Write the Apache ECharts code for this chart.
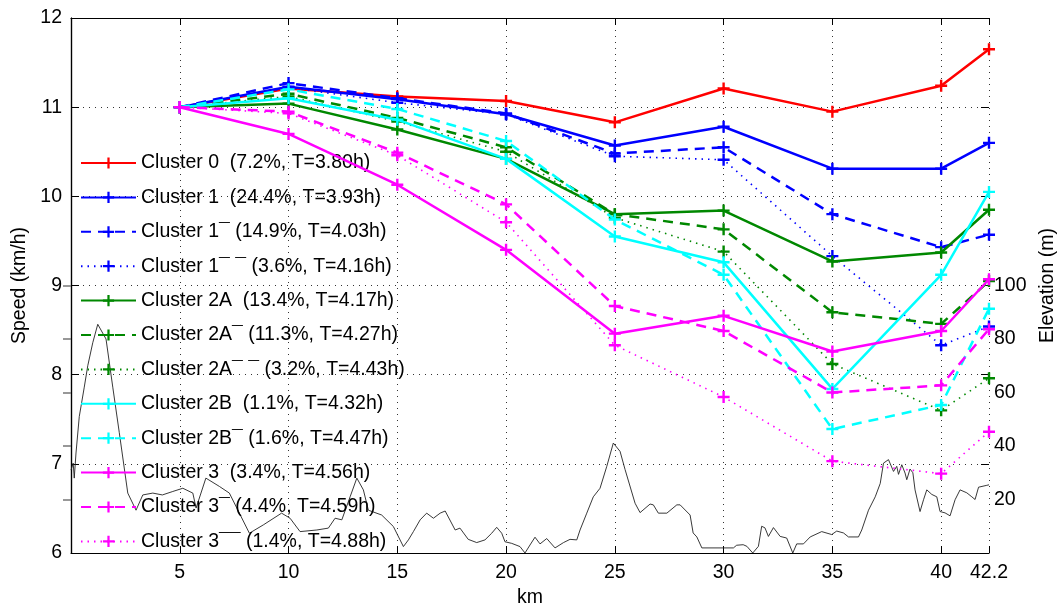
<!DOCTYPE html>
<html>
<head>
<meta charset="utf-8">
<script src="https://cdn.jsdelivr.net/npm/echarts@6/dist/echarts.min.js"></script>
<style>
  html, body { margin: 0; padding: 0; background: #fff; }
  #chart { width: 1061px; height: 605px; }
</style>
</head>
<body>
<div id="chart"></div>
<script>
// km markers where cluster speeds were measured
var kmPoints = [5, 10, 15, 20, 25, 30, 35, 40, 42.2];

// speed (km/h) per cluster
var c0    = [11, 11.21, 11.12, 11.07, 10.83, 11.21, 10.95, 11.24, 11.65];
var c1    = [11, 11.23, 11.09, 10.92, 10.57, 10.78, 10.31, 10.31, 10.60];
var c1m   = [11, 11.27, 11.10, 10.93, 10.48, 10.55, 9.80, 9.43, 9.57];
var c1mm  = [11, 11.22, 11.05, 10.92, 10.45, 10.41, 9.33, 8.33, 8.54];
var c2a   = [11, 11.04, 10.75, 10.42, 9.80, 9.84, 9.27, 9.37, 9.85];
var c2am  = [11, 11.15, 10.88, 10.55, 9.80, 9.63, 8.70, 8.57, 9.05];
var c2amm = [11, 11.12, 10.84, 10.50, 9.76, 9.38, 8.12, 7.60, 7.96];
var c2b   = [11, 11.10, 10.86, 10.42, 9.55, 9.26, 7.84, 9.12, 10.05];
var c2bm  = [11, 11.20, 10.98, 10.62, 9.74, 9.12, 7.39, 7.66, 8.74];
var c3    = [11, 10.70, 10.13, 9.40, 8.46, 8.66, 8.26, 8.49, 9.07];
var c3m   = [11, 10.95, 10.49, 9.91, 8.77, 8.49, 7.80, 7.88, 8.51];
var c3mm  = [11, 10.93, 10.46, 9.71, 8.33, 7.75, 7.03, 6.89, 7.36];

var clusterNames = [
    'Cluster 0  (7.2%, T=3.80h)',
    'Cluster 1  (24.4%, T=3.93h)',
    'Cluster 1\u00af (14.9%, T=4.03h)',
    'Cluster 1\u00af \u00af (3.6%, T=4.16h)',
    'Cluster 2A  (13.4%, T=4.17h)',
    'Cluster 2A\u00af (11.3%, T=4.27h)',
    'Cluster 2A\u00af \u00af (3.2%, T=4.43h)',
    'Cluster 2B  (1.1%, T=4.32h)',
    'Cluster 2B\u00af (1.6%, T=4.47h)',
    'Cluster 3  (3.4%, T=4.56h)',
    'Cluster 3\u00af (4.4%, T=4.59h)',
    'Cluster 3\u00af\u00af (1.4%, T=4.88h)'
];

// elevation profile (km, m)
var elevKm = [0, 0.1, 0.15, 0.23, 0.38, 0.61, 0.77, 1.0, 1.23, 1.61, 1.92, 2.22, 2.61, 2.99, 3.3, 3.76, 4.2, 4.68,
    5.14, 5.6, 5.75, 6.2, 6.82, 7.28, 7.74, 8.2, 8.84, 9.68, 10.07, 10.53, 11.3, 11.83, 12.14, 12.45, 12.83,
    13.14, 13.44, 13.67, 14.28, 14.82, 15.28, 15.51, 15.74, 16.05, 16.35, 16.66, 16.97, 17.2, 17.66, 17.88,
    18.26, 18.65, 19.03, 19.34, 19.57, 19.8, 19.95, 20.26, 20.64, 20.87, 21.1, 21.33, 21.56, 21.87, 22.25,
    22.64, 22.94, 23.25, 23.4, 23.71, 24.01, 24.32, 24.63, 24.93, 25.24, 25.47, 25.93, 26.16, 26.62, 26.77,
    27.0, 27.39, 27.85, 28.0, 28.46, 28.6, 28.77, 29.0, 30.45, 30.6, 30.9, 31.07, 31.34, 31.6, 31.75, 31.9,
    32.06, 32.29, 32.6, 32.9, 33.18, 33.36, 33.67, 33.98, 34.51, 34.97, 35.2, 35.51, 35.74, 36.2, 36.35,
    36.66, 36.97, 37.2, 37.35, 37.58, 37.81, 37.96, 38.04, 38.19, 38.34, 38.42, 38.57, 38.7, 38.8, 39.03,
    39.19, 39.34, 39.57, 39.8, 39.95, 40.18, 40.41, 40.64, 40.87, 41.18, 41.41, 41.56, 41.72, 42.1, 42.2];
var elevM = [31, 33.6, 28, 37.4, 51, 62, 70, 78.6, 85.5, 80, 62, 45, 22.4, 16, 21.7, 22.4, 21.7, 23,
    24.2, 22.4, 16.8, 28, 24.9, 22.4, 14.9, 7.4, 10.5, 14.9, 13, 8, 8.6, 9.3, 13, 12.4, 21,
    28, 23.6, 16, 14.2, 9.9, 2.4, 4.9, 8, 12.4, 14.9, 13, 14.9, 15.7, 8.6, 9.3,
    5.1, 3.9, 4.9, 7.4, 9.6, 7.4, 4.2, 3.6, 2.4, 0, 3, 5.9, 3.4, 5.4, 1.9,
    3.9, 5.1, 4.9, 8.6, 14.9, 21, 24.2, 32.4, 41.1, 38, 31.2, 18.6, 15.1, 18.3, 18,
    14.9, 14.9, 18, 18, 14.2, 7.5, 6, 1.9, 1.9, 2.9, 3.1, 2.5, 0, 2.5, 10, 9.4,
    6.2, 9.5, 6.2, 5.6, 0, 3.4, 3.4, 6, 8, 6.9, 8.2, 7.5, 6, 6, 8.6,
    16, 21, 26, 33.6, 34.9, 30.5, 32.4, 29.4, 33, 29.9, 27.4, 31.4, 30, 23.6, 15.5,
    19.9, 23.6, 21.9, 21, 15.5, 15, 13.9, 19.9, 23.6, 22.5, 21, 20, 24.6, 25.3, 25.5];

var xTickLabels = [5, 10, 15, 20, 25, 30, 35, 40, 42.2];
var elevTicks = [20, 40, 60, 80, 100];

var speedSets = [c0, c1, c1m, c1mm, c2a, c2am, c2amm, c2b, c2bm, c3, c3m, c3mm];
var colors = ['#ff0000', '#0000ff', '#0000ff', '#0000ff', '#008800', '#008800', '#008800',
    '#00ffff', '#00ffff', '#ff00ff', '#ff00ff', '#ff00ff'];
var styles = ['solid', 'solid', 'dashed', 'dotted', 'solid', 'dashed', 'dotted',
    'solid', 'dashed', 'solid', 'dashed', 'dotted'];

var plus = 'path://M4,0h2v4h4v2h-4v4h-2v-4h-4v-2h4z';
var font = 'Liberation Sans, Arial, Helvetica, sans-serif';
var fs = 19.5;

function dashOf(s) {
    if (s === 'dashed') return [10, 7];
    if (s === 'dotted') return [1.5, 5];
    return 'solid';
}

var series = [{
    name: 'elevation',
    type: 'line',
    xAxisIndex: 0,
    yAxisIndex: 1,
    showSymbol: false,
    symbol: 'none',
    data: elevKm.map(function (k, i) { return [k, elevM[i]]; }),
    lineStyle: { color: '#222', width: 0.9 },
    z: 1,
    silent: true
}];

speedSets.forEach(function (arr, i) {
    series.push({
        name: clusterNames[i],
        type: 'line',
        xAxisIndex: 0,
        yAxisIndex: 0,
        data: kmPoints.map(function (k, j) { return [k, arr[j]]; }),
        symbol: plus,
        symbolSize: 12,
        showSymbol: true,
        color: colors[i],
        itemStyle: { color: colors[i] },
        lineStyle: {
            color: colors[i],
            width: styles[i] === 'dotted' ? 1.6 : 2.5,
            type: dashOf(styles[i])
        },
        z: 2 + i
    });
});

var myChart = echarts.init(document.getElementById('chart'));
var option = {
    animation: false,
    backgroundColor: '#fff',
    textStyle: { fontFamily: font },
    grid: { left: 71, right: 72, top: 18, bottom: 52, outerBoundsMode: 'none' },
    legend: {
        data: clusterNames,
        orient: 'vertical',
        left: 80,
        top: 153,
        padding: 0,
        itemWidth: 55,
        itemHeight: 14,
        itemGap: 14.4,
        textStyle: { fontSize: fs, color: '#000', fontFamily: font, lineHeight: 20 },
        inactiveColor: '#ccc'
    },
    xAxis: [{
        type: 'value',
        min: 0,
        max: 42.2,
        interval: 5,
        name: 'km',
        nameLocation: 'middle',
        nameGap: 32,
        nameTextStyle: { fontSize: fs, color: '#000', fontFamily: font },
        axisLine: { lineStyle: { color: '#000', width: 1.2 } },
        axisTick: { inside: true, length: 7, lineStyle: { color: '#000' }, customValues: xTickLabels },
        axisLabel: {
            fontSize: fs, color: '#000', margin: 10, fontFamily: font,
            customValues: xTickLabels
        },
        splitLine: { show: true, lineStyle: { color: '#333', type: [1, 5], width: 1 } }
    }, {
        type: 'value',
        position: 'top',
        min: 0,
        max: 42.2,
        interval: 5,
        axisLine: { lineStyle: { color: '#000', width: 1.2 } },
        axisTick: { inside: true, length: 7, lineStyle: { color: '#000' }, customValues: xTickLabels },
        axisLabel: { show: false },
        splitLine: { show: false }
    }],
    yAxis: [{
        type: 'value',
        min: 6,
        max: 12,
        interval: 1,
        name: 'Speed (km/h)',
        nameLocation: 'middle',
        nameGap: 41,
        nameTextStyle: { fontSize: fs, color: '#000', fontFamily: font },
        axisLine: { show: true, lineStyle: { color: '#000', width: 1.2 } },
        axisTick: { show: true, inside: true, length: 8, lineStyle: { color: '#000' } },
        axisLabel: { fontSize: fs, color: '#000', margin: 9, fontFamily: font },
        splitLine: { show: true, lineStyle: { color: '#333', type: [1, 5], width: 1 } }
    }, {
        type: 'value',
        position: 'right',
        min: 0,
        max: 200,
        interval: 20,
        name: 'Elevation (m)',
        nameLocation: 'middle',
        nameGap: 47,
        nameTextStyle: { fontSize: fs, color: '#000', fontFamily: font },
        axisLine: { show: true, lineStyle: { color: '#000', width: 1.2 } },
        axisTick: { show: true, inside: true, length: 8, lineStyle: { color: '#777', width: 1.5 }, customValues: elevTicks },
        axisLabel: { fontSize: fs, color: '#000', margin: 5, fontFamily: font, customValues: elevTicks },
        splitLine: { show: false }
    }, {
        type: 'value',
        position: 'right',
        min: 6,
        max: 12,
        interval: 1,
        axisLine: { show: false },
        axisTick: { show: true, inside: true, length: 8, lineStyle: { color: '#000' } },
        axisLabel: { show: false },
        splitLine: { show: false }
    }],
    series: series
};
myChart.setOption(option);
window.addEventListener('resize', function () {
    myChart.resize();
});
</script>
</body>
</html>
